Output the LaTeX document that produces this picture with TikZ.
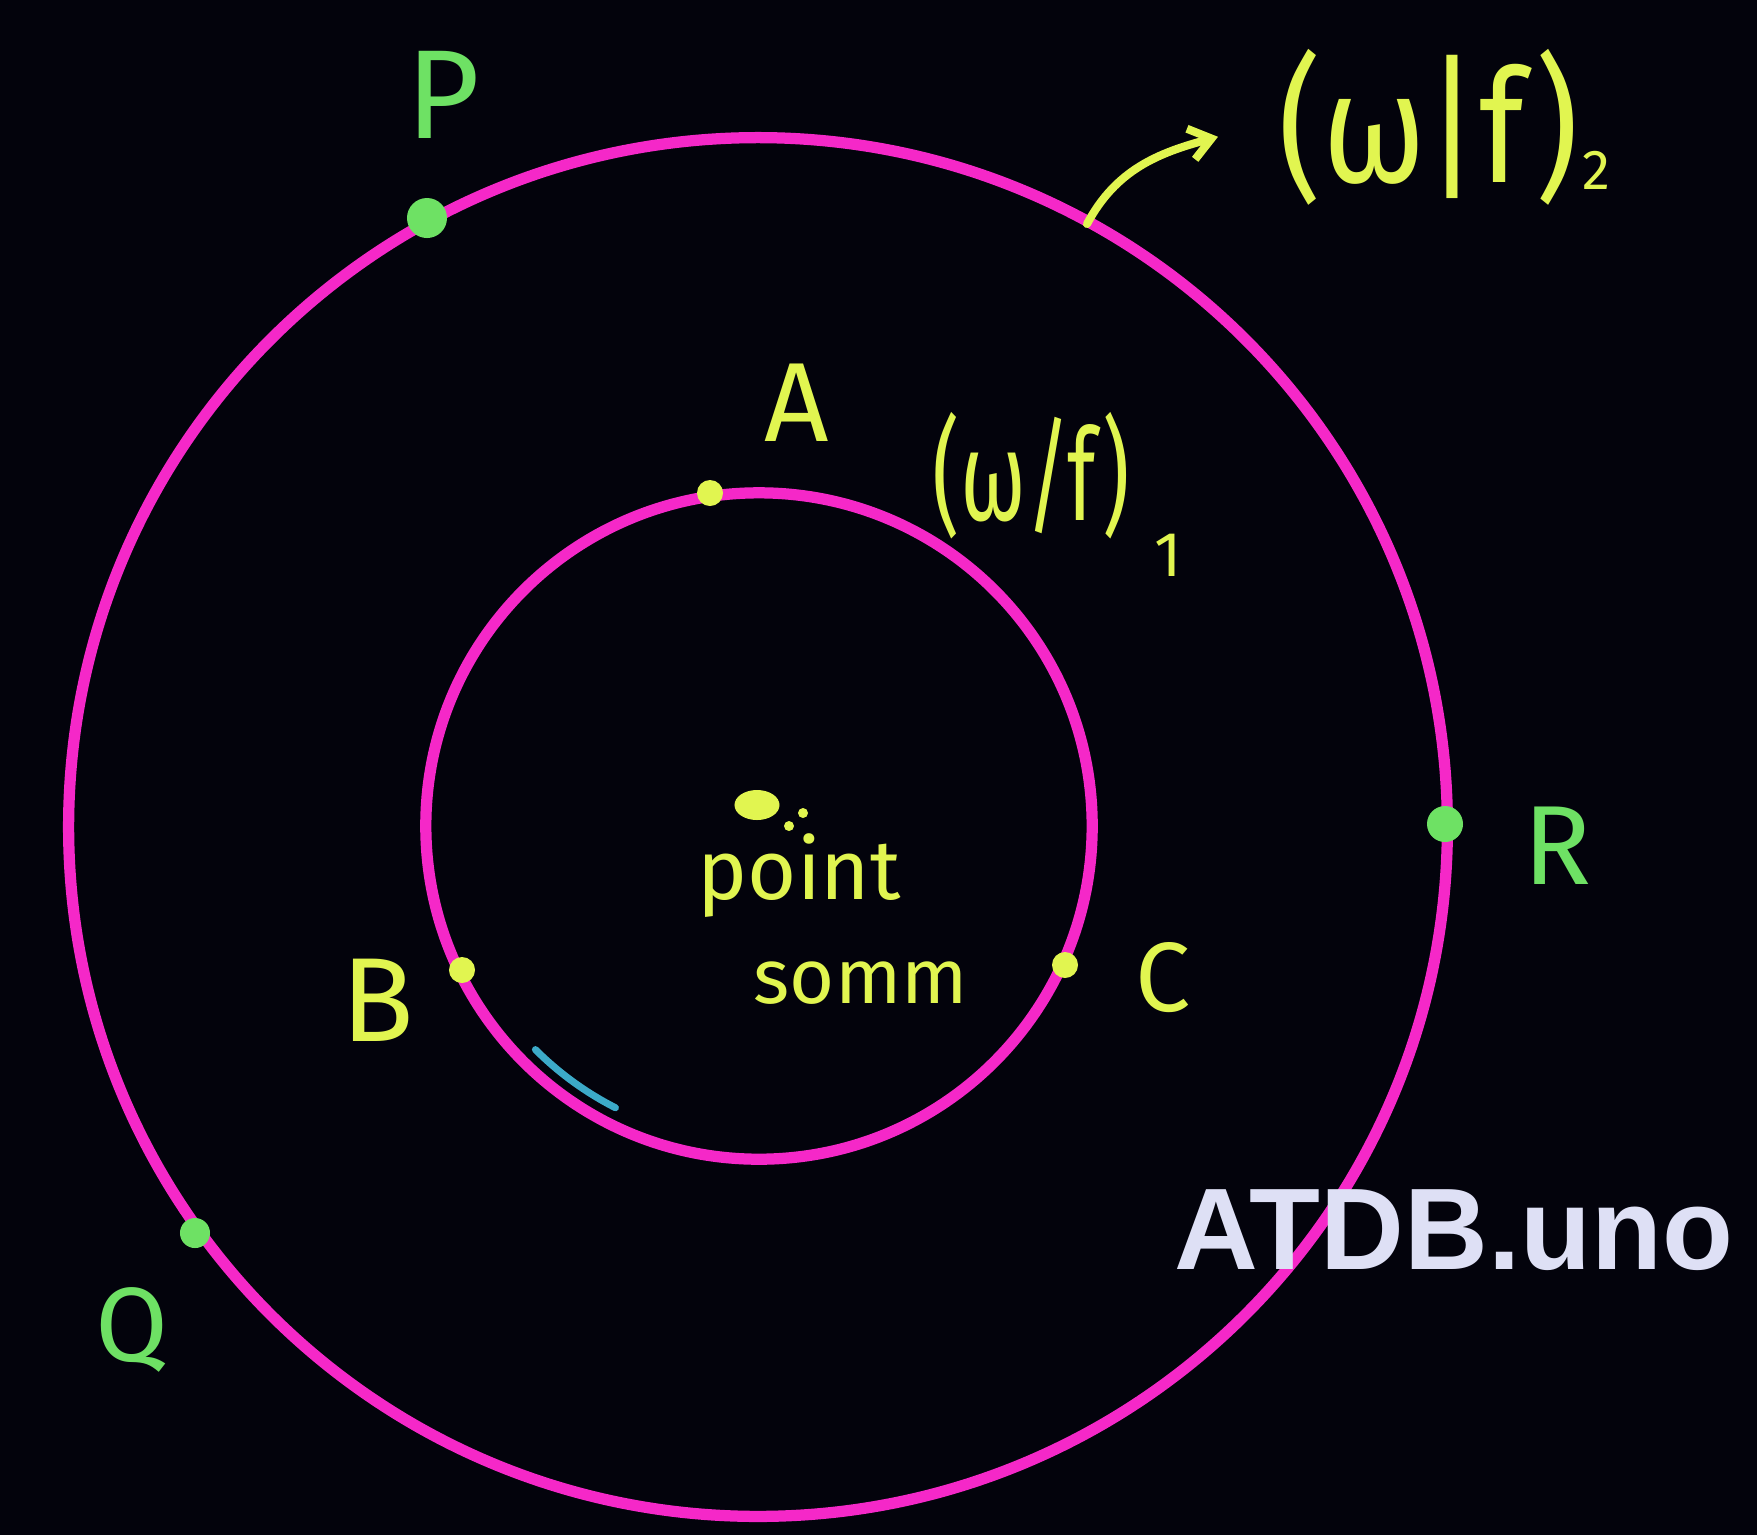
\documentclass[tikz,border=0pt]{standalone}
\usepackage{fontspec}
\setmainfont{Fira Sans}
\newfontfamily\markfont{Liberation Sans}
\usetikzlibrary{arrows.meta,shapes.geometric}
\definecolor{bgdark}{RGB}{3,3,12}
\definecolor{ringpink}{RGB}{245,40,200}
\definecolor{chalkyel}{RGB}{225,245,80}
\definecolor{chalkgrn}{RGB}{110,225,100}
\definecolor{chalkcyan}{RGB}{60,170,200}
\definecolor{markgrey}{RGB}{222,224,245}
\begin{document}
\begin{tikzpicture}[x=0.01cm,y=-0.01cm,every node/.style={inner sep=0pt},
  ring/.style={draw=ringpink,line width=3.2pt},
  ydot/.style={circle,fill=chalkyel,minimum size=0.26cm},
  gdot/.style={circle,fill=chalkgrn,minimum size=#1},
  ylab/.style={text=chalkyel,font=\fontsize{#1}{#1}\selectfont},
  glab/.style={text=chalkgrn,font=\fontsize{#1}{#1}\selectfont}]
\fill[bgdark] (0,0) rectangle (1757,1535);
\draw[ring] (758,827) circle[radius=6.89cm]; \draw[ring] (759,826) circle[radius=3.33cm];
\draw[chalkcyan,line width=2pt,line cap=round] (759,826) ++(225:3.16cm) arc[start angle=225,end angle=243,radius=3.16cm];
\node[gdot=0.4cm] (dP) at (427,218) {}; \node[gdot=0.36cm] (dR) at (1445,824) {}; \node[gdot=0.3cm] (dQ) at (195,1233) {};
\node[ydot] (dA) at (710,493) {}; \node[ydot] (dB) at (462,970) {}; \node[ydot] (dC) at (1065,965) {};
\node[ellipse,fill=chalkyel,minimum width=0.45cm,minimum height=0.3cm] (src) at (757,805) {};
\node[circle,fill=chalkyel,minimum size=0.1cm] (srcdotA) at (803,813) {}; \node[circle,fill=chalkyel,minimum size=0.1cm] (srcdotB) at (789,826) {};
\node[glab=36] (labP) at (443,95) {P}; \node[glab=32] (labR) at (1558,846) {R}; \node[glab=30] (labQ) at (132,1330) {Q};
\node[ylab=32] (labA) at (797,403) {A}; \node[ylab=34] (labB) at (378,1000) {B}; \node[ylab=28] (labC) at (1163,978) {C};
\node[ylab=28,anchor=base west] (wf1) at (932,520) {\scalebox{0.86}[1.3]{(ω/f)}\hspace{7pt}\raisebox{-16pt}{\fontsize{18}{18}\selectfont 1}};
\node[ylab=38,anchor=base west] (wf2) at (1278,182) {\scalebox{1.0}[1.18]{(ω|f)}\hspace{1pt}\raisebox{-2pt}{\fontsize{16}{16}\selectfont 2}};
\node[ylab=24,anchor=base west] (pt) at (697,899) {point}; \node[ylab=22,anchor=base west] (sm) at (753,1003) {somm};
\coordinate (wf2foot) at (1087,224);
\draw[chalkyel,line width=2.3pt,line cap=round,-{Straight Barb[length=6pt,width=9pt]}] (wf2foot) to[out=62,in=195] ([xshift=-0.6cm,yshift=-0.1cm]wf2.west);
\node[text=markgrey,font=\markfont\bfseries\fontsize{33}{33}\selectfont] (mark) at (1454,1230) {ATDB.uno};
\end{tikzpicture}
\end{document}
